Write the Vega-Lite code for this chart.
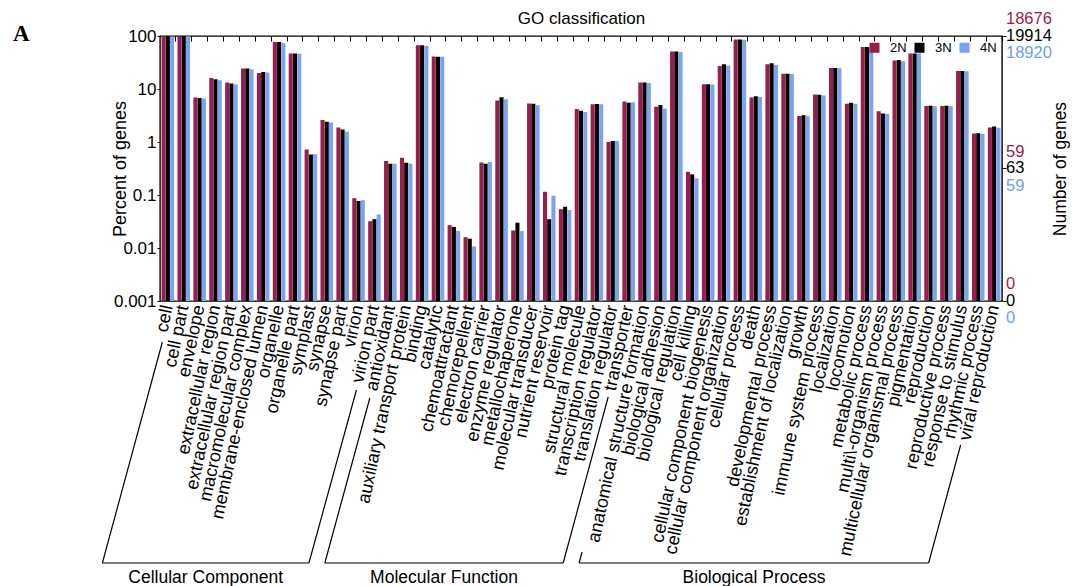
{
  "$schema": "https://vega.github.io/schema/vega-lite/v6.json",
  "autosize": {"type": "none"},
  "width": 842,
  "height": 265,
  "padding": {"left": 160, "top": 36, "right": 70, "bottom": 285},
  "title": {
    "text": "A",
    "anchor": "start",
    "frame": "group",
    "font": "Liberation Serif",
    "fontSize": 23,
    "fontWeight": "bold",
    "color": "#000",
    "baseline": "alphabetic",
    "offset": 0,
    "dx": -147,
    "dy": 54
  },
  "datasets": {
    "genes": [
      {"term": "cell", "ploidy": "2N", "percent": 98.5},
      {"term": "cell", "ploidy": "3N", "percent": 98.5},
      {"term": "cell", "ploidy": "4N", "percent": 98.3},
      {"term": "cell part", "ploidy": "2N", "percent": 98.4},
      {"term": "cell part", "ploidy": "3N", "percent": 98.4},
      {"term": "cell part", "ploidy": "4N", "percent": 98.2},
      {"term": "envelope", "ploidy": "2N", "percent": 6.9},
      {"term": "envelope", "ploidy": "3N", "percent": 6.8},
      {"term": "envelope", "ploidy": "4N", "percent": 6.6},
      {"term": "extracellular region", "ploidy": "2N", "percent": 16.2},
      {"term": "extracellular region", "ploidy": "3N", "percent": 15.3},
      {"term": "extracellular region", "ploidy": "4N", "percent": 14.7},
      {"term": "extracellular region part", "ploidy": "2N", "percent": 13.2},
      {"term": "extracellular region part", "ploidy": "3N", "percent": 12.7},
      {"term": "extracellular region part", "ploidy": "4N", "percent": 12.1},
      {"term": "macromolecular complex", "ploidy": "2N", "percent": 24.3},
      {"term": "macromolecular complex", "ploidy": "3N", "percent": 24.3},
      {"term": "macromolecular complex", "ploidy": "4N", "percent": 23.6},
      {"term": "membrane-enclosed lumen", "ploidy": "2N", "percent": 20.1},
      {"term": "membrane-enclosed lumen", "ploidy": "3N", "percent": 21.0},
      {"term": "membrane-enclosed lumen", "ploidy": "4N", "percent": 20.5},
      {"term": "organelle", "ploidy": "2N", "percent": 77},
      {"term": "organelle", "ploidy": "3N", "percent": 77},
      {"term": "organelle", "ploidy": "4N", "percent": 74},
      {"term": "organelle part", "ploidy": "2N", "percent": 46.6},
      {"term": "organelle part", "ploidy": "3N", "percent": 46.6},
      {"term": "organelle part", "ploidy": "4N", "percent": 46.0},
      {"term": "symplast", "ploidy": "2N", "percent": 0.72},
      {"term": "symplast", "ploidy": "3N", "percent": 0.58},
      {"term": "symplast", "ploidy": "4N", "percent": 0.59},
      {"term": "synapse", "ploidy": "2N", "percent": 2.6},
      {"term": "synapse", "ploidy": "3N", "percent": 2.4},
      {"term": "synapse", "ploidy": "4N", "percent": 2.33},
      {"term": "synapse part", "ploidy": "2N", "percent": 1.88},
      {"term": "synapse part", "ploidy": "3N", "percent": 1.72},
      {"term": "synapse part", "ploidy": "4N", "percent": 1.56},
      {"term": "virion", "ploidy": "2N", "percent": 0.087},
      {"term": "virion", "ploidy": "3N", "percent": 0.077},
      {"term": "virion", "ploidy": "4N", "percent": 0.08},
      {"term": "virion part", "ploidy": "2N", "percent": 0.032},
      {"term": "virion part", "ploidy": "3N", "percent": 0.035},
      {"term": "virion part", "ploidy": "4N", "percent": 0.043},
      {"term": "antioxidant", "ploidy": "2N", "percent": 0.436},
      {"term": "antioxidant", "ploidy": "3N", "percent": 0.389},
      {"term": "antioxidant", "ploidy": "4N", "percent": 0.389},
      {"term": "auxiliary transport protein", "ploidy": "2N", "percent": 0.505},
      {"term": "auxiliary transport protein", "ploidy": "3N", "percent": 0.407},
      {"term": "auxiliary transport protein", "ploidy": "4N", "percent": 0.389},
      {"term": "binding", "ploidy": "2N", "percent": 66.8},
      {"term": "binding", "ploidy": "3N", "percent": 66.8},
      {"term": "binding", "ploidy": "4N", "percent": 64.9},
      {"term": "catalytic", "ploidy": "2N", "percent": 41.0},
      {"term": "catalytic", "ploidy": "3N", "percent": 40.8},
      {"term": "catalytic", "ploidy": "4N", "percent": 40.5},
      {"term": "chemoattractant", "ploidy": "2N", "percent": 0.027},
      {"term": "chemoattractant", "ploidy": "3N", "percent": 0.025},
      {"term": "chemoattractant", "ploidy": "4N", "percent": 0.021},
      {"term": "chemorepellent", "ploidy": "2N", "percent": 0.016},
      {"term": "chemorepellent", "ploidy": "3N", "percent": 0.015},
      {"term": "chemorepellent", "ploidy": "4N", "percent": 0.0107},
      {"term": "electron carrier", "ploidy": "2N", "percent": 0.41},
      {"term": "electron carrier", "ploidy": "3N", "percent": 0.39},
      {"term": "electron carrier", "ploidy": "4N", "percent": 0.42},
      {"term": "enzyme regulator", "ploidy": "2N", "percent": 6.1},
      {"term": "enzyme regulator", "ploidy": "3N", "percent": 7.0},
      {"term": "enzyme regulator", "ploidy": "4N", "percent": 6.4},
      {"term": "metallochaperone", "ploidy": "2N", "percent": 0.0214},
      {"term": "metallochaperone", "ploidy": "3N", "percent": 0.03},
      {"term": "metallochaperone", "ploidy": "4N", "percent": 0.021},
      {"term": "molecular transducer", "ploidy": "2N", "percent": 5.3},
      {"term": "molecular transducer", "ploidy": "3N", "percent": 5.25},
      {"term": "molecular transducer", "ploidy": "4N", "percent": 4.95},
      {"term": "nutrient reservoir", "ploidy": "2N", "percent": 0.115},
      {"term": "nutrient reservoir", "ploidy": "3N", "percent": 0.035},
      {"term": "nutrient reservoir", "ploidy": "4N", "percent": 0.097},
      {"term": "protein tag", "ploidy": "2N", "percent": 0.054},
      {"term": "protein tag", "ploidy": "3N", "percent": 0.06},
      {"term": "protein tag", "ploidy": "4N", "percent": 0.052},
      {"term": "structural molecule", "ploidy": "2N", "percent": 4.2},
      {"term": "structural molecule", "ploidy": "3N", "percent": 3.9},
      {"term": "structural molecule", "ploidy": "4N", "percent": 3.7},
      {"term": "transcription regulator", "ploidy": "2N", "percent": 5.15},
      {"term": "transcription regulator", "ploidy": "3N", "percent": 5.2},
      {"term": "transcription regulator", "ploidy": "4N", "percent": 5.15},
      {"term": "translation regulator", "ploidy": "2N", "percent": 1.0},
      {"term": "translation regulator", "ploidy": "3N", "percent": 1.04},
      {"term": "translation regulator", "ploidy": "4N", "percent": 1.04},
      {"term": "transporter", "ploidy": "2N", "percent": 5.8},
      {"term": "transporter", "ploidy": "3N", "percent": 5.5},
      {"term": "transporter", "ploidy": "4N", "percent": 5.6},
      {"term": "anatomical structure formation", "ploidy": "2N", "percent": 13.2},
      {"term": "anatomical structure formation", "ploidy": "3N", "percent": 13.2},
      {"term": "anatomical structure formation", "ploidy": "4N", "percent": 13.0},
      {"term": "biological adhesion", "ploidy": "2N", "percent": 4.6},
      {"term": "biological adhesion", "ploidy": "3N", "percent": 5.0},
      {"term": "biological adhesion", "ploidy": "4N", "percent": 4.3},
      {"term": "biological regulation", "ploidy": "2N", "percent": 50.8},
      {"term": "biological regulation", "ploidy": "3N", "percent": 50.8},
      {"term": "biological regulation", "ploidy": "4N", "percent": 50.0},
      {"term": "cell killing", "ploidy": "2N", "percent": 0.275},
      {"term": "cell killing", "ploidy": "3N", "percent": 0.245},
      {"term": "cell killing", "ploidy": "4N", "percent": 0.206},
      {"term": "cellular component biogenesis", "ploidy": "2N", "percent": 12.3},
      {"term": "cellular component biogenesis", "ploidy": "3N", "percent": 12.3},
      {"term": "cellular component biogenesis", "ploidy": "4N", "percent": 12.2},
      {"term": "cellular component organization", "ploidy": "2N", "percent": 27.2},
      {"term": "cellular component organization", "ploidy": "3N", "percent": 29.3},
      {"term": "cellular component organization", "ploidy": "4N", "percent": 27.5},
      {"term": "cellular process", "ploidy": "2N", "percent": 85.5},
      {"term": "cellular process", "ploidy": "3N", "percent": 85.5},
      {"term": "cellular process", "ploidy": "4N", "percent": 85.0},
      {"term": "death", "ploidy": "2N", "percent": 6.9},
      {"term": "death", "ploidy": "3N", "percent": 7.3},
      {"term": "death", "ploidy": "4N", "percent": 7.1},
      {"term": "developmental process", "ploidy": "2N", "percent": 29.3},
      {"term": "developmental process", "ploidy": "3N", "percent": 30.6},
      {"term": "developmental process", "ploidy": "4N", "percent": 28.4},
      {"term": "establishment of localization", "ploidy": "2N", "percent": 19.3},
      {"term": "establishment of localization", "ploidy": "3N", "percent": 19.3},
      {"term": "establishment of localization", "ploidy": "4N", "percent": 19.2},
      {"term": "growth", "ploidy": "2N", "percent": 3.08},
      {"term": "growth", "ploidy": "3N", "percent": 3.2},
      {"term": "growth", "ploidy": "4N", "percent": 3.05},
      {"term": "immune system process", "ploidy": "2N", "percent": 7.9},
      {"term": "immune system process", "ploidy": "3N", "percent": 7.8},
      {"term": "immune system process", "ploidy": "4N", "percent": 7.55},
      {"term": "localization", "ploidy": "2N", "percent": 25.0},
      {"term": "localization", "ploidy": "3N", "percent": 25.0},
      {"term": "localization", "ploidy": "4N", "percent": 24.5},
      {"term": "locomotion", "ploidy": "2N", "percent": 5.25},
      {"term": "locomotion", "ploidy": "3N", "percent": 5.5},
      {"term": "locomotion", "ploidy": "4N", "percent": 5.25},
      {"term": "metabolic process", "ploidy": "2N", "percent": 62},
      {"term": "metabolic process", "ploidy": "3N", "percent": 62},
      {"term": "metabolic process", "ploidy": "4N", "percent": 61.5},
      {"term": "multi\\-organism process", "ploidy": "2N", "percent": 3.82},
      {"term": "multi\\-organism process", "ploidy": "3N", "percent": 3.46},
      {"term": "multi\\-organism process", "ploidy": "4N", "percent": 3.36},
      {"term": "multicellular organismal process", "ploidy": "2N", "percent": 34.4},
      {"term": "multicellular organismal process", "ploidy": "3N", "percent": 35.4},
      {"term": "multicellular organismal process", "ploidy": "4N", "percent": 33.4},
      {"term": "pigmentation", "ploidy": "2N", "percent": 46.6},
      {"term": "pigmentation", "ploidy": "3N", "percent": 47.0},
      {"term": "pigmentation", "ploidy": "4N", "percent": 46.6},
      {"term": "reproduction", "ploidy": "2N", "percent": 4.8},
      {"term": "reproduction", "ploidy": "3N", "percent": 4.85},
      {"term": "reproduction", "ploidy": "4N", "percent": 4.75},
      {"term": "reproductive process", "ploidy": "2N", "percent": 4.8},
      {"term": "reproductive process", "ploidy": "3N", "percent": 4.85},
      {"term": "reproductive process", "ploidy": "4N", "percent": 4.75},
      {"term": "response to stimulus", "ploidy": "2N", "percent": 21.9},
      {"term": "response to stimulus", "ploidy": "3N", "percent": 21.9},
      {"term": "response to stimulus", "ploidy": "4N", "percent": 21.6},
      {"term": "rhythmic process", "ploidy": "2N", "percent": 1.45},
      {"term": "rhythmic process", "ploidy": "3N", "percent": 1.47},
      {"term": "rhythmic process", "ploidy": "4N", "percent": 1.43},
      {"term": "viral reproduction", "ploidy": "2N", "percent": 1.88},
      {"term": "viral reproduction", "ploidy": "3N", "percent": 1.96},
      {"term": "viral reproduction", "ploidy": "4N", "percent": 1.86}
    ],
    "ontologies": [
      {"ontology": "Cellular Component", "first": "cell", "last": "virion part"},
      {"ontology": "Molecular Function", "first": "antioxidant", "last": "transporter"},
      {"ontology": "Biological Process", "first": "anatomical structure formation", "last": "viral reproduction"}
    ],
    "totals": [
      {"ploidy": "2N", "genes": 18676, "percent": 100},
      {"ploidy": "2N", "genes": 59, "percent": 0.3159},
      {"ploidy": "2N", "genes": 0, "percent": 0.001},
      {"ploidy": "3N", "genes": 19914, "percent": 100},
      {"ploidy": "3N", "genes": 63, "percent": 0.3164},
      {"ploidy": "3N", "genes": 0, "percent": 0.001},
      {"ploidy": "4N", "genes": 18920, "percent": 100},
      {"ploidy": "4N", "genes": 59, "percent": 0.3118},
      {"ploidy": "4N", "genes": 0, "percent": 0.001}
    ],
    "anchor": [{}]
  },
  "layer": [
    {
      "data": {"name": "genes"},
      "mark": {"type": "bar"},
      "encoding": {
        "x": {
          "field": "term",
          "type": "nominal",
          "sort": null,
          "scale": {
            "type": "band",
            "domain": ["cell", "cell part", "envelope", "extracellular region", "extracellular region part", "macromolecular complex", "membrane-enclosed lumen", "organelle", "organelle part", "symplast", "synapse", "synapse part", "virion", "virion part", "antioxidant", "auxiliary transport protein", "binding", "catalytic", "chemoattractant", "chemorepellent", "electron carrier", "enzyme regulator", "metallochaperone", "molecular transducer", "nutrient reservoir", "protein tag", "structural molecule", "transcription regulator", "translation regulator", "transporter", "anatomical structure formation", "biological adhesion", "biological regulation", "cell killing", "cellular component biogenesis", "cellular component organization", "cellular process", "death", "developmental process", "establishment of localization", "growth", "immune system process", "localization", "locomotion", "metabolic process", "multi\\-organism process", "multicellular organismal process", "pigmentation", "reproduction", "reproductive process", "response to stimulus", "rhythmic process", "viral reproduction"],
            "paddingInner": 0.21,
            "paddingOuter": 0.1
          },
          "axis": {
            "orient": "bottom",
            "title": null,
            "ticks": false,
            "domain": false,
            "labelAngle": -78,
            "labelFontSize": 18,
            "labelPadding": 4,
            "labelLimit": 400,
            "labelOverlap": false
          }
        },
        "xOffset": {"field": "ploidy", "type": "nominal", "scale": {"paddingInner": 0.04}},
        "y": {
          "field": "percent",
          "type": "quantitative",
          "stack": null,
          "scale": {"type": "log", "domain": [0.001, 100]},
          "axis": {
            "orient": "left",
            "title": "Percent of genes",
            "titleFontSize": 18,
            "titlePadding": -16,
            "values": [0.001, 0.01, 0.1, 1, 10, 100],
            "format": "~g",
            "labelFontSize": 17,
            "labelPadding": 1,
            "tickSize": 3,
            "domain": false
          }
        },
        "color": {
          "field": "ploidy",
          "type": "nominal",
          "scale": {"domain": ["2N", "3N", "4N"], "range": ["#9B1D4B", "#000000", "#7BA3F0"]},
          "legend": {
            "title": null,
            "orient": "top-right",
            "direction": "horizontal",
            "offset": 5,
            "padding": 0,
            "symbolType": "square",
            "symbolSize": 100,
            "symbolStrokeWidth": 0,
            "labelFontSize": 13,
            "labelOffset": 9,
            "columnPadding": 6
          }
        }
      }
    },
    {
      "data": {"name": "ontologies"},
      "mark": {"type": "rule", "color": "#000", "strokeWidth": 1.2, "xOffset": -65.5, "x2Offset": -65.5, "yOffset": 262},
      "encoding": {
        "x": {
          "field": "first",
          "type": "nominal",
          "bandPosition": 0.5,
          "axis": {
            "orient": "top",
            "title": "GO classification",
            "titleFontSize": 17,
            "titlePadding": 8,
            "labels": false,
            "domain": false,
            "tickSize": -5,
            "bandPosition": 1.133
          }
        },
        "x2": {"field": "last", "bandPosition": 0.5},
        "y": {"value": "height"}
      }
    },
    {
      "data": {"name": "anchor"},
      "mark": {"type": "rule", "color": "#000", "strokeWidth": 1.2, "xOffset": -5.5, "yOffset": 41, "x2Offset": -65.5, "y2Offset": 262},
      "encoding": {
        "x": {"datum": "cell", "bandPosition": 0.5, "axis": null},
        "x2": {"datum": "cell", "bandPosition": 0.5},
        "y": {"value": "height"},
        "y2": {"value": "height"}
      }
    },
    {
      "data": {"name": "anchor"},
      "mark": {"type": "rule", "color": "#000", "strokeWidth": 1.2, "xOffset": -18, "yOffset": 89, "x2Offset": -65.5, "y2Offset": 262},
      "encoding": {
        "x": {"datum": "virion part", "bandPosition": 0.5, "axis": null},
        "x2": {"datum": "virion part", "bandPosition": 0.5},
        "y": {"value": "height"},
        "y2": {"value": "height"}
      }
    },
    {
      "data": {"name": "anchor"},
      "mark": {"type": "rule", "color": "#000", "strokeWidth": 1.2, "xOffset": -20.5, "yOffset": 97, "x2Offset": -65.5, "y2Offset": 262},
      "encoding": {
        "x": {"datum": "antioxidant", "bandPosition": 0.5, "axis": null},
        "x2": {"datum": "antioxidant", "bandPosition": 0.5},
        "y": {"value": "height"},
        "y2": {"value": "height"}
      }
    },
    {
      "data": {"name": "anchor"},
      "mark": {"type": "rule", "color": "#000", "strokeWidth": 1.2, "xOffset": -20.5, "yOffset": 96, "x2Offset": -65.5, "y2Offset": 262},
      "encoding": {
        "x": {"datum": "transporter", "bandPosition": 0.5, "axis": null},
        "x2": {"datum": "transporter", "bandPosition": 0.5},
        "y": {"value": "height"},
        "y2": {"value": "height"}
      }
    },
    {
      "data": {"name": "anchor"},
      "mark": {"type": "rule", "color": "#000", "strokeWidth": 1.2, "xOffset": -62.5, "yOffset": 251, "x2Offset": -65.5, "y2Offset": 262},
      "encoding": {
        "x": {"datum": "anatomical structure formation", "bandPosition": 0.5, "axis": null},
        "x2": {"datum": "anatomical structure formation", "bandPosition": 0.5},
        "y": {"value": "height"},
        "y2": {"value": "height"}
      }
    },
    {
      "data": {"name": "anchor"},
      "mark": {"type": "rule", "color": "#000", "strokeWidth": 1.2, "xOffset": -33.5, "yOffset": 144, "x2Offset": -65.5, "y2Offset": 262},
      "encoding": {
        "x": {"datum": "viral reproduction", "bandPosition": 0.5, "axis": null},
        "x2": {"datum": "viral reproduction", "bandPosition": 0.5},
        "y": {"value": "height"},
        "y2": {"value": "height"}
      }
    },
    {
      "data": {"name": "anchor"},
      "mark": {"type": "text", "fontSize": 17.5, "color": "#000", "align": "center", "baseline": "middle", "dx": 37.8, "dy": 277},
      "encoding": {
        "x": {"datum": "cell", "bandPosition": 0.5, "axis": null},
        "y": {"value": "height"},
        "text": {"value": "Cellular Component"}
      }
    },
    {
      "data": {"name": "anchor"},
      "mark": {"type": "text", "fontSize": 17.5, "color": "#000", "align": "center", "baseline": "middle", "dx": 53.7, "dy": 277},
      "encoding": {
        "x": {"datum": "antioxidant", "bandPosition": 0.5, "axis": null},
        "y": {"value": "height"},
        "text": {"value": "Molecular Function"}
      }
    },
    {
      "data": {"name": "anchor"},
      "mark": {"type": "text", "fontSize": 17.5, "color": "#000", "align": "center", "baseline": "middle", "dx": 109.5, "dy": 277},
      "encoding": {
        "x": {"datum": "anatomical structure formation", "bandPosition": 0.5, "axis": null},
        "y": {"value": "height"},
        "text": {"value": "Biological Process"}
      }
    },
    {
      "data": {"name": "totals"},
      "transform": [{"filter": "datum.ploidy == '3N'"}],
      "mark": {"type": "text", "fontSize": 16.5, "color": "#000", "align": "left", "baseline": "middle", "dx": 4},
      "encoding": {
        "x": {"value": "width"},
        "y": {
          "field": "percent",
          "type": "quantitative",
          "axis": {
            "orient": "right",
            "values": [100, 0.3164, 0.001],
            "labels": false,
            "domain": false,
            "tickSize": 4,
            "title": "Number of genes",
            "titleFontSize": 17.5,
            "titleAngle": -90,
            "titlePadding": 63
          }
        },
        "text": {"field": "genes", "type": "quantitative", "format": "d"}
      }
    },
    {
      "data": {"name": "totals"},
      "transform": [{"filter": "datum.ploidy == '2N'"}],
      "mark": {"type": "text", "fontSize": 16.5, "color": "#9B1D4B", "align": "left", "baseline": "middle", "dx": 4, "dy": -17},
      "encoding": {
        "x": {"value": "width"},
        "y": {"field": "percent", "type": "quantitative", "axis": null},
        "text": {"field": "genes", "type": "quantitative", "format": "d"}
      }
    },
    {
      "data": {"name": "totals"},
      "transform": [{"filter": "datum.ploidy == '4N'"}],
      "mark": {"type": "text", "fontSize": 16.5, "color": "#6FA0F0", "align": "left", "baseline": "middle", "dx": 4, "dy": 17},
      "encoding": {
        "x": {"value": "width"},
        "y": {"field": "percent", "type": "quantitative", "axis": null},
        "text": {"field": "genes", "type": "quantitative", "format": "d"}
      }
    }
  ],
  "resolve": {"axis": {"x": "independent", "y": "independent"}},
  "config": {
    "font": "Liberation Sans",
    "view": {"stroke": "#000", "strokeWidth": 1.4},
    "axis": {
      "grid": false,
      "labelFont": "Liberation Sans",
      "titleFont": "Liberation Sans",
      "titleFontWeight": "normal",
      "labelColor": "#000",
      "titleColor": "#000",
      "tickColor": "#000",
      "domainColor": "#000"
    },
    "legend": {"labelFont": "Liberation Sans", "labelColor": "#000"}
  }
}
